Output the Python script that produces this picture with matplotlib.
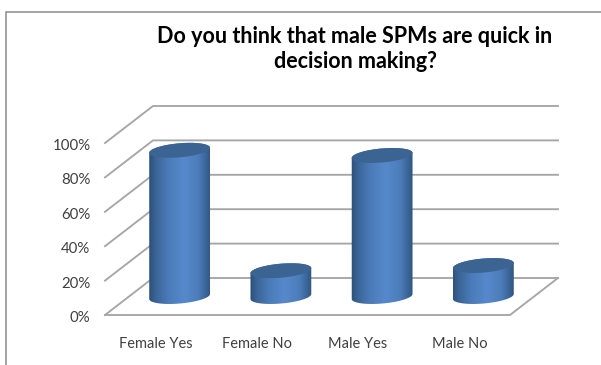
import numpy as np
import matplotlib
matplotlib.use("Agg")
import matplotlib.pyplot as plt
from matplotlib.patches import Polygon

categories = ["Female Yes", "Female No", "Male Yes", "Male No"]
values = [85, 15, 82, 18]
y_ticks = [0, 20, 40, 60, 80, 100]
y_tick_labels = ["0%", "20%", "40%", "60%", "80%", "100%"]
title = "Do you think that male SPMs are quick in\ndecision making?"

W, H = 601, 365
PX_X = 101.25          # pixels per category
PX_Y = 1.72            # pixels per percent
X0, Y0 = 105, 315      # front-left floor corner in pixels
DX = 48 / PX_X         # depth offset in category units
DY = 37 / PX_Y         # depth offset in percent units

plt.rcParams["font.family"] = ["Lato", "DejaVu Sans"]
fig = plt.figure(figsize=(W / 100, H / 100), dpi=100, facecolor="white")
ax = fig.add_axes([0, 0, 1, 1])
ax.set_xlim(-X0 / PX_X, (W - X0) / PX_X)
ax.set_ylim(-(H - Y0) / PX_Y, Y0 / PX_Y)
ax.axis("off")


def px(xp, yp):
    return (xp - X0) / PX_X, (Y0 - yp) / PX_Y


# Outer chart frame
fx, fy = zip(px(6, H), px(6, 12), px(W, 12))
ax.plot(fx, fy, color="#8c8c8c", lw=1.1, solid_joinstyle="miter", zorder=1)

# Walls and gridlines
n = len(categories)
grid = "#a6a6a6"
for t in y_ticks:
    ax.plot([0, DX, n + DX], [t, t + DY, t + DY], color=grid, lw=1.35, zorder=2)
ax.plot([0, n, n + DX], [0, 0, DY], color=grid, lw=1.35, zorder=2)

# Cylinders
A, B, TILT = 30.5, 7.0, np.radians(5)
theta = np.linspace(0, 2 * np.pi, 181)


def ellipse(cx, cy):
    ex = A * np.cos(theta) * np.cos(TILT) - B * np.sin(theta) * np.sin(TILT)
    ey = A * np.cos(theta) * np.sin(TILT) + B * np.sin(theta) * np.cos(TILT)
    return cx + ex / PX_X, cy + ey / PX_Y


cmap = matplotlib.colors.LinearSegmentedColormap.from_list(
    "cyl",
    [(0, "#2c4e76"), (0.1, "#3a6496"), (0.3, "#4a7ab8"), (0.55, "#5689cc"),
     (0.78, "#4c7dbb"), (0.92, "#3a6294"), (1, "#2d5078")],
)
grad = np.linspace(0, 1, 256).reshape(1, -1)

for i, v in enumerate(values):
    cx = i + 0.5 + DX / 2
    cb = DY / 2
    ct = v + DY / 2
    bx, by = ellipse(cx, cb)
    tx, ty = ellipse(cx, ct)
    # silhouette: lower half of base + upper half of top, joined by the sides
    lower = (theta >= np.pi) & (theta <= 2 * np.pi)
    upper = theta <= np.pi
    sil = np.vstack([
        np.column_stack([bx[lower], by[lower]]),
        np.column_stack([tx[upper], ty[upper]]),
    ])
    clip = Polygon(sil, closed=True, transform=ax.transData, fc="none", ec="none")
    ax.add_patch(clip)
    w = A * 1.02 / PX_X
    im = ax.imshow(grad, extent=[cx - w, cx + w, by.min() - 1, ty.max() + 1],
                   aspect="auto", cmap=cmap, zorder=3, interpolation="bilinear")
    im.set_clip_path(clip)
    ax.fill(tx, ty, color="#3b6493", lw=0, zorder=4)

ax.set_xlim(-X0 / PX_X, (W - X0) / PX_X)
ax.set_ylim(-(H - Y0) / PX_Y, Y0 / PX_Y)

# Tick labels
label_col = "#404040"
for t, lab in zip(y_ticks, y_tick_labels):
    ax.text(-14.5 / PX_X, t - 3 / PX_Y, lab, ha="right", va="center", fontsize=10.8, color=label_col)
for i, c in enumerate(categories):
    ax.text(i + 0.5, -28.5 / PX_Y, c, ha="center", va="center", fontsize=10.5, color=label_col)

# Title
tx_, ty_ = px(355, 49)
ax.text(tx_, ty_, title, ha="center", va="center", fontsize=15.5, fontweight="bold",
        color="black", linespacing=1.28)

fig.savefig("out.png", dpi=100, facecolor="white")
